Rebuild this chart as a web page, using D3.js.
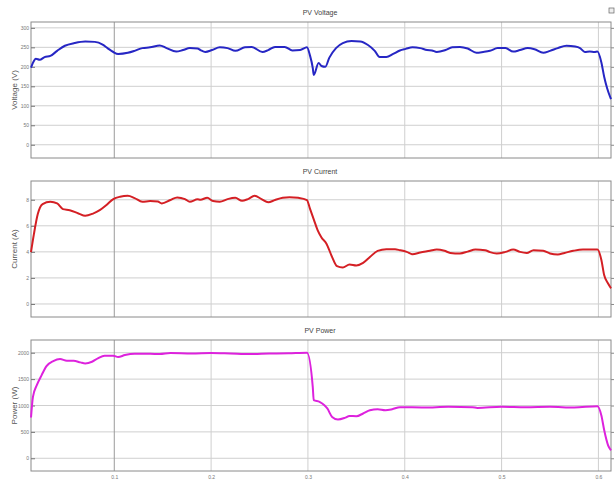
<!DOCTYPE html>
<html>
<head>
<meta charset="utf-8">
<script src="https://cdn.jsdelivr.net/npm/d3@7"></script>
<style>
  body { margin: 0; background: #fff; }
  text { font-family: "Liberation Sans", Arial, sans-serif; }
</style>
</head>
<body>
<div id="app"></div>
<script>
'use strict'
const W = 616
const H = 480

// time axis (s)
const xTicks = [0.1, 0.2, 0.3, 0.4, 0.5, 0.6]
const xTickLabels = ['0.1', '0.2', '0.3', '0.4', '0.5', '0.6']

// PV voltage (V)
const voltageT = [0.014, 0.017, 0.019, 0.023, 0.028, 0.034, 0.041, 0.049, 0.059, 0.070, 0.080, 0.088, 0.093, 0.099, 0.104, 0.114, 0.121, 0.129, 0.137, 0.147, 0.154, 0.164, 0.171, 0.178, 0.186, 0.189, 0.194, 0.201, 0.209, 0.217, 0.225, 0.235, 0.242, 0.253, 0.259, 0.266, 0.276, 0.284, 0.292, 0.299, 0.302, 0.305, 0.306, 0.311, 0.314, 0.318, 0.322, 0.329, 0.336, 0.345, 0.354, 0.362, 0.369, 0.374, 0.381, 0.388, 0.395, 0.401, 0.408, 0.416, 0.423, 0.428, 0.433, 0.442, 0.449, 0.457, 0.465, 0.474, 0.481, 0.488, 0.496, 0.504, 0.512, 0.519, 0.527, 0.534, 0.543, 0.550, 0.558, 0.567, 0.576, 0.581, 0.586, 0.591, 0.596, 0.599, 0.603, 0.606, 0.609, 0.613]
const voltageV = [198, 215, 221, 218, 225, 228, 241, 254, 261, 265, 264, 257, 248, 238, 233, 236, 241, 248, 250, 255, 248, 239, 243, 248, 247, 243, 238, 243, 250, 248, 241, 250, 251, 238, 243, 251, 251, 242, 243, 250, 230, 197, 179, 210, 202, 200, 223, 248, 261, 266, 265, 256, 241, 225, 225, 233, 242, 246, 250, 248, 243, 242, 238, 243, 250, 251, 247, 236, 238, 241, 248, 248, 239, 243, 248, 245, 236, 241, 248, 254, 252, 248, 238, 239, 238, 239, 212, 174, 145, 117]

// PV current (A)
const currentT = [0.014, 0.017, 0.021, 0.026, 0.034, 0.041, 0.047, 0.054, 0.063, 0.070, 0.078, 0.085, 0.092, 0.099, 0.106, 0.114, 0.121, 0.129, 0.137, 0.145, 0.149, 0.158, 0.165, 0.173, 0.178, 0.186, 0.189, 0.196, 0.202, 0.209, 0.217, 0.225, 0.232, 0.238, 0.245, 0.252, 0.259, 0.266, 0.274, 0.281, 0.290, 0.299, 0.302, 0.306, 0.310, 0.314, 0.319, 0.325, 0.330, 0.336, 0.343, 0.350, 0.357, 0.364, 0.372, 0.381, 0.390, 0.395, 0.402, 0.408, 0.416, 0.426, 0.433, 0.441, 0.447, 0.457, 0.465, 0.473, 0.483, 0.488, 0.495, 0.504, 0.512, 0.519, 0.526, 0.533, 0.543, 0.550, 0.558, 0.565, 0.574, 0.584, 0.599, 0.603, 0.606, 0.610, 0.613]
const currentV = [3.98, 5.36, 6.9, 7.67, 7.85, 7.72, 7.28, 7.2, 6.95, 6.77, 6.94, 7.2, 7.6, 8.05, 8.23, 8.3, 8.13, 7.85, 7.9, 7.86, 7.72, 7.98, 8.18, 8.05, 7.85, 8.03, 8.0, 8.15, 7.9, 7.85, 8.05, 8.15, 7.92, 8.05, 8.3, 8.05, 7.8, 7.98, 8.15, 8.2, 8.15, 7.98, 7.34, 6.5, 5.67, 5.1, 4.65, 3.6, 2.9, 2.8, 3.03, 2.95, 3.15, 3.6, 4.08, 4.2, 4.2, 4.13, 4.0, 3.82, 3.95, 4.08, 4.18, 4.08, 3.92, 3.88, 4.02, 4.18, 4.13, 3.98, 3.88, 4.0, 4.18, 4.0, 3.92, 4.13, 4.08, 3.88, 3.8, 3.92, 4.08, 4.18, 4.18, 3.4, 2.2, 1.57, 1.2]

// PV power (W)
const powerT = [0.014, 0.016, 0.020, 0.025, 0.030, 0.037, 0.044, 0.051, 0.058, 0.065, 0.070, 0.077, 0.083, 0.090, 0.099, 0.104, 0.111, 0.121, 0.137, 0.147, 0.158, 0.180, 0.200, 0.220, 0.240, 0.260, 0.280, 0.299, 0.305, 0.306, 0.312, 0.317, 0.320, 0.325, 0.331, 0.338, 0.343, 0.350, 0.357, 0.364, 0.372, 0.380, 0.387, 0.395, 0.420, 0.445, 0.470, 0.475, 0.500, 0.525, 0.550, 0.575, 0.599, 0.603, 0.606, 0.610, 0.613]
const powerV = [772, 1164, 1386, 1576, 1747, 1842, 1880, 1848, 1848, 1817, 1798, 1829, 1893, 1943, 1943, 1918, 1956, 1981, 1981, 1975, 1994, 1985, 1994, 1985, 1975, 1985, 1990, 2000, 1348, 1101, 1069, 1006, 944, 784, 735, 765, 803, 797, 849, 911, 930, 911, 930, 968, 962, 975, 968, 955, 975, 968, 975, 962, 987, 816, 531, 246, 151]

const panels = [
  { title: 'PV Voltage', label: 'Voltage (V)', t: voltageT, v: voltageV, color: '#2626c4',
    top: 22, bottom: 158, domain: [-34, 315], ticks: [0, 50, 100, 150, 200, 250, 300] },
  { title: 'PV Current', label: 'Current (A)', t: currentT, v: currentV, color: '#d41f24',
    top: 181, bottom: 317, domain: [-1, 9.44], ticks: [0, 2, 4, 6, 8] },
  { title: 'PV Power', label: 'Power (W)', t: powerT, v: powerV, color: '#dd22dd',
    top: 340, bottom: 471, domain: [-241, 2241], ticks: [0, 500, 1000, 1500, 2000] }
]

const left = 31
const right = 611

const svg = d3.select('#app').append('svg')
  .attr('width', W)
  .attr('height', H)
  .style('background-color', '#fff')

const x = d3.scaleLinear()
  .domain([0.014, 0.613])
  .range([left, right])

panels.forEach((p, i) => {
  const y = d3.scaleLinear()
    .domain(p.domain)
    .range([p.bottom, p.top])

  const g = svg.append('g')

  // horizontal grid
  g.selectAll('.hgrid')
    .data(p.ticks)
    .enter()
    .append('line')
    .attr('x1', left).attr('x2', right)
    .attr('y1', d => y(d)).attr('y2', d => y(d))
    .style('stroke', '#cfcfcf')
    .style('stroke-width', 1)

  // vertical grid
  g.selectAll('.vgrid')
    .data(xTicks)
    .enter()
    .append('line')
    .attr('x1', d => x(d)).attr('x2', d => x(d))
    .attr('y1', p.top).attr('y2', p.bottom)
    .style('stroke', (d, j) => j === 0 ? '#9a9a9a' : '#cfcfcf')
    .style('stroke-width', 1)

  // frame
  g.append('rect')
    .attr('x', left).attr('y', p.top)
    .attr('width', right - left).attr('height', p.bottom - p.top)
    .style('fill', 'none')
    .style('stroke', '#8a8a8a')
    .style('stroke-width', 1)

  // left axis labels
  const yAxis = g.append('g')
    .attr('transform', `translate(${left}, 0)`)
    .call(d3.axisLeft(y).tickValues(p.ticks).tickSize(0).tickPadding(2)
      .tickFormat(d3.format('d')))
  yAxis.select('.domain').remove()
  yAxis.selectAll('text')
    .style('font-size', '5px')
    .style('fill', '#777')
    .style('font-family', '"Liberation Sans", Arial, sans-serif')

  // right side small ticks
  const rAxis = g.append('g')
    .attr('transform', `translate(${right}, 0)`)
    .call(d3.axisRight(y).tickValues(p.ticks).tickSize(3).tickFormat(''))
  rAxis.select('.domain').remove()
  rAxis.selectAll('line').style('stroke', '#8a8a8a')

  // left inner ticks
  const lAxis = g.append('g')
    .attr('transform', `translate(${left}, 0)`)
    .call(d3.axisRight(y).tickValues(p.ticks).tickSize(4).tickFormat(''))
  lAxis.select('.domain').remove()
  lAxis.selectAll('line').style('stroke', '#777')

  // title
  g.append('text')
    .attr('x', 320)
    .attr('y', p.top - 7)
    .attr('text-anchor', 'middle')
    .style('font-size', '7px')
    .style('fill', '#444')
    .text(p.title)

  // y label
  g.append('text')
    .attr('transform', `translate(14, ${(p.top + p.bottom) / 2}) rotate(-90)`)
    .attr('text-anchor', 'middle')
    .attr('dy', '0.35em')
    .style('font-size', '8px')
    .style('fill', '#555')
    .text(p.label)

  // the curve
  const data = p.t.map((t, k) => [t, p.v[k]])
  const line = d3.line()
    .x(d => x(d[0]))
    .y(d => y(d[1]))
    .curve(d3.curveMonotoneX)

  g.append('path')
    .datum(data)
    .attr('d', line)
    .style('fill', 'none')
    .style('stroke', p.color)
    .style('stroke-width', 2)
    .style('stroke-linejoin', 'round')

  // x labels only under the last panel
  if (i === panels.length - 1) {
    const xAxis = g.append('g')
      .attr('transform', `translate(0, ${p.bottom})`)
      .call(d3.axisBottom(x).tickValues(xTicks).tickSize(0).tickPadding(4)
        .tickFormat((d, j) => xTickLabels[j]))
    xAxis.select('.domain').remove()
    xAxis.selectAll('text')
      .style('font-size', '5px')
      .style('fill', '#777')
      .style('font-family', '"Liberation Sans", Arial, sans-serif')
  }
})

// small figure icon, top right
svg.append('rect')
  .attr('x', 609).attr('y', 8)
  .attr('width', 5).attr('height', 5)
  .style('fill', '#eee')
  .style('stroke', '#666')
  .style('stroke-width', 0.7)
</script>
</body>
</html>
